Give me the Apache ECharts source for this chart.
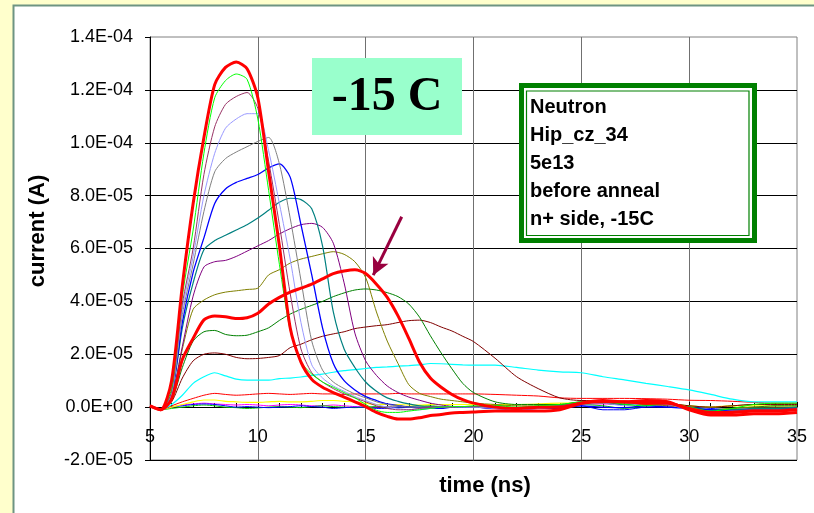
<!DOCTYPE html>
<html>
<head>
<meta charset="utf-8">
<script src="https://cdn.jsdelivr.net/npm/echarts@6/dist/echarts.min.js"></script>
<style>
html,body{margin:0;padding:0;background:#FFFFCC;}
#chart{width:814px;height:513px;}
</style>
</head>
<body>
<div id="chart"></div>
<script>
// time axis (ns)
const times = [5,5.5,6,6.5,7,7.5,8,8.5,9,9.5,10,10.5,11,11.5,12,12.5,13,13.5,14,14.5,15,15.5,16,16.5,17,17.5,18,18.5,19,19.5,20,21,22,23,24,25,26,27,28,29,30,31,32,33,34,35];
// current values in units of 1E-05 A
const redBig    = [0.05,-0.1,1.0,4.6,7.7,10.2,12.2,12.85,13.05,12.8,11.7,8.9,6.1,3.0,1.7,1.05,0.75,0.55,0.38,0.2,0.02,-0.2,-0.35,-0.45,-0.45,-0.4,-0.32,-0.28,-0.22,-0.2,-0.18,-0.15,-0.15,-0.15,-0.1,0.15,0.25,0.2,0.25,0.2,-0.1,-0.3,-0.3,-0.25,-0.25,-0.2];
const lime      = [0.05,-0.1,0.7,4.2,6.7,9.6,11.7,12.35,12.6,12.4,10.9,8.2,5.4,2.9,1.7,1.25,0.95,0.75,0.55,0.35,0.1,-0.12,-0.2,-0.2,-0.15,-0.1,-0.05,0,0.02,0.02,0.05,0.05,0,0.05,0.1,0.2,0.25,0.1,0.05,0.15,0,-0.15,-0.05,0.1,0.15,0.15];
const plum      = [0.05,-0.1,0.6,3.9,6.0,8.8,10.6,11.45,11.75,11.9,11.3,9.3,6.9,4.3,2.2,1.3,0.95,0.7,0.5,0.35,0.2,0.05,-0.05,-0.1,-0.1,-0.05,0,0,0,0.02,0.02,0,-0.05,0,0.05,0.2,0.22,0.18,0.2,0.15,-0.05,-0.2,-0.15,-0.1,-0.1,-0.05];
const lavender  = [0.05,-0.1,0.5,3.7,5.7,8.0,9.6,10.55,10.9,11.1,11.1,9.7,7.7,5.6,3.2,1.6,1.1,0.8,0.6,0.4,0.25,0.1,0,-0.05,-0.1,-0.1,-0.05,0,0,0,0,-0.05,-0.1,-0.05,0,0.1,0.15,0.05,0.15,0.1,-0.1,-0.25,-0.2,-0.15,-0.15,-0.1];
const gray      = [0.05,-0.1,0.5,3.5,5.4,7.4,8.9,9.4,9.65,9.85,10.05,10.2,9.2,7.15,4.8,2.5,1.4,0.95,0.7,0.5,0.35,0.2,0.1,0.05,0,0,0,0,0.02,0.02,0,0,-0.05,0,0.05,0.15,0.2,0.15,0.15,0.1,-0.05,-0.2,-0.15,-0.1,-0.1,-0.1];
const blue      = [0.05,-0.1,0.5,3.2,5.1,6.4,7.7,8.25,8.5,8.65,8.8,9.05,9.2,8.7,6.9,5.0,3.0,1.65,1.0,0.65,0.4,0.25,0.12,0.06,0,-0.02,-0.05,-0.05,0,0,0,-0.05,-0.1,-0.05,-0.05,0.05,0,-0.02,0.05,0,-0.05,-0.1,-0.15,-0.1,-0.1,-0.1];
const teal      = [0.05,-0.1,0.45,3.0,4.7,5.95,6.3,6.5,6.7,6.9,7.15,7.45,7.75,7.9,7.85,7.5,6.1,3.6,2.2,1.5,0.95,0.6,0.35,0.22,0.12,0.05,0,0,0,0.02,0.02,0,-0.05,0,0.05,0.15,0.15,0.1,0.15,0.1,0,-0.1,-0.1,-0.05,-0.05,0];
const purple    = [0.05,-0.1,0.4,2.3,4.2,5.3,5.5,5.55,5.7,5.9,6.1,6.3,6.55,6.75,6.9,6.95,6.8,6.2,4.7,2.8,1.75,1.2,0.8,0.55,0.38,0.26,0.15,0.08,0.03,0,0,-0.05,-0.05,0,0.05,0.15,0.2,0.15,0.2,0.1,0,-0.15,-0.1,-0.1,-0.05,-0.05];
const olive     = [0.05,-0.1,0.35,2.2,3.7,4.05,4.25,4.35,4.4,4.45,4.5,5.0,5.2,5.45,5.6,5.7,5.8,5.88,5.78,5.5,4.9,3.6,2.5,1.65,0.85,0.52,0.4,0.3,0.25,0.2,0.15,0.1,0.05,0.05,0.05,0.15,0.15,0.1,0.1,0.05,-0.05,-0.1,-0.05,0,0,0];
const redMid    = [0.05,-0.1,0.3,1.8,2.6,3.3,3.45,3.42,3.35,3.38,3.55,3.9,4.15,4.35,4.5,4.65,4.85,5.05,5.15,5.2,5.05,4.65,4.15,3.45,2.6,1.7,1.1,0.75,0.48,0.28,0.15,0,-0.05,0,0,0.15,0.2,0.2,0.15,0.15,-0.05,-0.2,-0.2,-0.15,-0.15,-0.1];
const green     = [0.05,-0.1,0.25,1.5,2.5,2.85,2.9,2.75,2.7,2.72,2.85,3.0,3.28,3.52,3.7,3.85,4.0,4.18,4.32,4.43,4.47,4.43,4.33,4.18,3.9,3.4,2.7,2.05,1.45,0.9,0.55,0.2,0.1,0.1,0.1,0.2,0.15,0.1,0.15,0.1,0,-0.1,-0.05,0,0.05,0.05];
const maroon    = [0.05,-0.1,0.2,1.1,1.75,2.0,2.05,2.0,1.88,1.83,1.84,1.88,1.95,2.25,2.38,2.55,2.68,2.77,2.85,2.97,3.03,3.08,3.12,3.2,3.27,3.29,3.2,3.03,2.88,2.68,2.48,1.85,1.15,0.7,0.35,0.25,0.25,0.2,0.2,0.15,0.05,0,0.05,0.1,0.1,0.1];
const cyan      = [0.05,-0.1,0.1,0.45,0.9,1.15,1.3,1.18,1.06,1.02,1.02,1.02,1.08,1.1,1.14,1.2,1.25,1.32,1.38,1.42,1.46,1.5,1.52,1.55,1.57,1.6,1.65,1.64,1.62,1.6,1.59,1.59,1.5,1.4,1.33,1.3,1.15,1.03,0.9,0.78,0.65,0.48,0.3,0.2,0.2,0.2];
const redSmall  = [0.05,-0.1,0.05,0.2,0.33,0.45,0.52,0.48,0.45,0.47,0.5,0.52,0.5,0.48,0.5,0.52,0.5,0.5,0.48,0.5,0.5,0.5,0.5,0.52,0.5,0.5,0.5,0.5,0.5,0.5,0.5,0.48,0.45,0.42,0.35,0.33,0.33,0.33,0.32,0.3,0.26,0.25,0.22,0.18,0.15,0.15];
const yellow    = [0.05,-0.1,0,0.1,0.2,0.27,0.27,0.22,0.2,0.18,0.18,0.2,0.22,0.2,0.2,0.22,0.25,0.25,0.22,0.2,0.15,0.1,0.1,0.1,0.08,0.08,0.1,0.1,0.1,0.1,0.1,0.1,0.1,0.12,0.15,0.15,0.15,0.1,0.1,0.1,0.05,0,0.05,0.05,0.05,0.05];
const zeroBlue  = [0.05,-0.1,0,0.05,0.1,0.12,0.1,0.05,0,0.02,0,-0.02,0,0.02,0.05,0.02,0,-0.05,-0.02,0,0,-0.05,-0.05,0,0,-0.02,0,0,0,0,0,-0.05,-0.05,-0.05,0,0.05,-0.1,-0.1,0,0,0.02,-0.05,-0.1,-0.08,-0.05,-0.05];
const zeroGreen = [0.05,-0.1,-0.05,0,0.05,0.08,0.05,0,-0.02,-0.05,-0.03,0,0.02,0,-0.02,0.02,0.05,0.02,0,-0.02,0,0.02,0,0,0.02,0.05,0.05,0.02,0,0,0,0.05,0.1,0.1,0.1,0.1,0.05,-0.05,0.05,0.1,0.05,0,0.05,0.1,0.12,0.12];
const zeroPink  = [0.05,-0.1,0,0.08,0.12,0.15,0.12,0.1,0.08,0.1,0.08,0.05,0.08,0.1,0.08,0.05,0.05,0.08,0.05,0.02,0,0,0.02,0,0,0,0.02,0,0,0.02,0,0,-0.02,0,0.02,0.1,0.12,0.1,0.1,0.05,-0.05,-0.1,-0.1,-0.05,-0.05,-0.05];

const xTicks = {min:5, max:35, step:5};
const yTicks = {min:-2, max:14, step:2}; // in 1E-05 A
const infoLines = ['Neutron','Hip_cz_34','5e13','before anneal','n+ side, -15C'];
const tempLabel = '-15 C';

function sciLabel(v){
  if (Math.abs(v) < 1e-9) return '0.0E+00';
  const a = Math.abs(v);
  const p = Math.floor(Math.log10(a) + 1e-9);
  const m = v / Math.pow(10, p);
  const e = p - 5;
  const es = (e < 0 ? '-' : '+') + String(Math.abs(e)).padStart(2,'0');
  return m.toFixed(1) + 'E' + es;
}

const seriesDefs = [
  {d: zeroPink, c:'#FF00FF', w:1},
  {d: zeroGreen, c:'#00CC00', w:1},
  {d: zeroBlue, c:'#0000FF', w:1},
  {d: yellow, c:'#FFFF00', w:1.2},
  {d: redSmall, c:'#FF0000', w:1},
  {d: cyan, c:'#00FFFF', w:1.2},
  {d: maroon, c:'#800000', w:1},
  {d: green, c:'#008000', w:1},
  {d: olive, c:'#808000', w:1},
  {d: purple, c:'#800080', w:1},
  {d: teal, c:'#008080', w:1.2},
  {d: blue, c:'#0000FF', w:1.3},
  {d: gray, c:'#808080', w:1},
  {d: lavender, c:'#9999FF', w:1},
  {d: plum, c:'#993366', w:1},
  {d: lime, c:'#00FF00', w:1},
  {d: redMid, c:'#FF0000', w:3, arrow:true},
  {d: redBig, c:'#FF0000', w:3}
];

const chart = echarts.init(document.getElementById('chart'), null, {renderer:'canvas'});
const font = 'Arial, "Liberation Sans", sans-serif';

const series = seriesDefs.map((s, k) => {
  const o = {
    type:'line', xAxisIndex:0, yAxisIndex:0,
    data: times.map((t,i)=>[t, s.d[i]]),
    showSymbol:false, smooth:0.25, silent:true,
    lineStyle:{color:s.c, width:s.w}, itemStyle:{color:s.c},
    z: 2 + k*0.01
  };
  if (s.arrow) {
    o.markLine = {
      silent:true, symbol:['none','arrow'], symbolSize:[13,17],
      label:{show:false},
      lineStyle:{color:'#99003F', width:3, type:'solid'},
      data:[[{coord:[16.67,7.2]},{coord:[15.35,4.99]}]]
    };
  }
  return o;
});

const infoTexts = infoLines.map((t,i)=>({
  type:'text', left:530, top: 97 + i*28.2, z:101,
  style:{text:t, font:'bold 20px ' + font, fill:'#000'}
}));

chart.setOption({
  animation:false,
  backgroundColor:'#FFFFCC',
  grid:[
    {left:150, right:17, top:37, bottom:53, show:true, borderColor:'#808080', borderWidth:1, backgroundColor:'transparent'},
    // helper grid whose bottom edge is the zero line: carries the time axis line, ticks and labels
    {left:150, right:17, top:37, bottom:106, show:false}
  ],
  xAxis:[{
    gridIndex:0, type:'value', min:xTicks.min, max:xTicks.max, interval:xTicks.step,
    axisLine:{show:false, onZero:false}, axisTick:{show:false}, axisLabel:{show:false},
    splitLine:{show:true, showMinLine:false, showMaxLine:false, lineStyle:{color:'#707070', width:1}}
  },{
    gridIndex:1, type:'value', position:'bottom', min:xTicks.min, max:xTicks.max, interval:xTicks.step,
    axisLine:{show:true, onZero:false, lineStyle:{color:'#000', width:1}},
    axisTick:{show:true, inside:true, length:5, lineStyle:{color:'#000'}},
    minorTick:{show:true, splitNumber:5, length:4, lineStyle:{color:'#000'}},
    axisLabel:{fontSize:18, color:'#000', margin:21, fontFamily:font},
    splitLine:{show:false}
  }],
  yAxis:[{
    gridIndex:0, type:'value', min:yTicks.min, max:yTicks.max, interval:yTicks.step,
    axisLine:{show:true, onZero:false, lineStyle:{color:'#000', width:1}},
    axisTick:{show:true, inside:false, length:5, lineStyle:{color:'#000'}},
    axisLabel:{fontSize:18, color:'#000', margin:17, fontFamily:font, formatter:sciLabel},
    splitLine:{show:true, showMinLine:true, showMaxLine:false, lineStyle:{color:'#000', width:1}}
  },{
    gridIndex:1, type:'value', min:0, max:1, show:false
  }],
  graphic:[
    {type:'rect', z:-10, shape:{x:13.5, y:5.5, width:820, height:520}, style:{fill:'#FFFFFF', stroke:'#6E9482', lineWidth:2}},
    {type:'text', z:50, x:485, y:486, style:{text:'time (ns)', font:'bold 22px ' + font, fill:'#000', align:'center', verticalAlign:'middle'}},
    {type:'text', z:50, x:38, y:231, rotation:Math.PI/2, style:{text:'current (A)', font:'bold 22px ' + font, fill:'#000', align:'center', verticalAlign:'middle'}},
    {type:'rect', z:100, shape:{x:312, y:58, width:150, height:77}, style:{fill:'#99FFCC'}},
    {type:'text', z:101, x:387, y:97.5, style:{text:tempLabel, font:'bold 48px "Times New Roman", "Liberation Serif", serif', fill:'#000', align:'center', verticalAlign:'middle'}},
    {type:'rect', z:100, shape:{x:521.5, y:85.5, width:233, height:155}, style:{fill:'#FFFFFF', stroke:'#008000', lineWidth:5}},
    {type:'rect', z:100, shape:{x:526.5, y:91, width:222.5, height:144.5}, style:{fill:'none', stroke:'#008000', lineWidth:1.2}},
    ...infoTexts
  ],
  series: series
});
</script>
</body>
</html>
